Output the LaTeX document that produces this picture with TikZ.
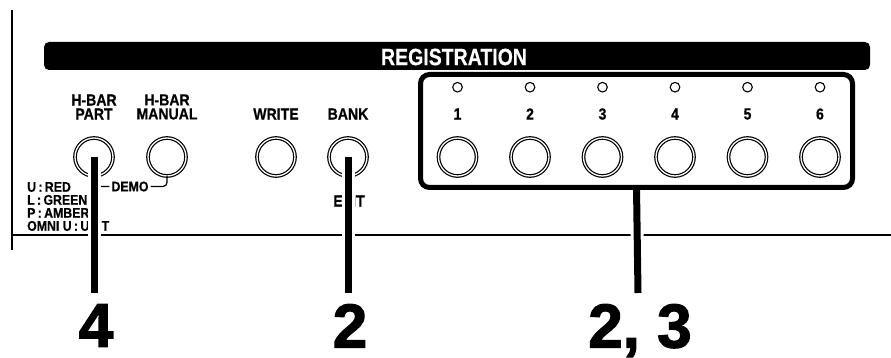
\documentclass[tikz,border=0pt]{standalone}
\usepackage{fontspec}
\usetikzlibrary{positioning}
\newfontfamily\panelfont{Liberation Sans}[FakeStretch=0.88,FakeBold=0.6]
\newfontfamily\barfont{Liberation Sans}[FakeStretch=0.83,FakeBold=0.4]
\newfontfamily\stepfont{Liberation Sans}[FakeBold=2]

\begin{document}
\begin{tikzpicture}[x=1pt,y=-1pt,
  button/.style={circle,draw,double,double distance=1.3pt,line width=1.2pt,
                 minimum size=38pt,inner sep=0pt,outer sep=0pt},
  led/.style={circle,draw,line width=1.1pt,minimum size=9.6pt,inner sep=0pt,outer sep=0pt},
  caption/.style={font=\panelfont\bfseries\fontsize{16}{14}\selectfont,align=center,inner sep=0pt},
  legend/.style={font=\panelfont\bfseries\fontsize{14}{13}\selectfont,align=left,inner sep=0pt},
  stepnum/.style={font=\stepfont\bfseries\fontsize{62}{62}\selectfont,inner sep=0pt},
  pointer/.style={line width=7pt,preaction={draw=white,line width=13pt,shorten <=4pt}},
  node distance=34.5pt
]
\useasboundingbox (0,0) rectangle (891,358);
% panel edges
\draw[line width=1.3pt] (12,10) -- (12,250);
\draw[line width=1.3pt] (12,235) -- (891,235);
\fill[rounded corners=5pt] (44,42) rectangle (870,70);
\node[font=\barfont\bfseries\fontsize{23.5}{23.5}\selectfont,text=white,inner sep=0pt] (regtitle) at (454,57) {REGISTRATION};

% left group
\node[caption] (partlabel) at (94,107) {H-BAR\\PART};
\node[caption] (manuallabel) at (167,107) {H-BAR\\MANUAL};
\node[caption] (writelabel) at (276,114) {WRITE};
\node[caption] (banklabel) at (348,114) {BANK};
\node[button] (part) at (94,157) {};
\node[button] (manual) at (167,157) {};
\node[button] (write) at (276,157) {};
\node[button] (bank) at (348,157) {};
\node[caption] (exit) at (349,201) {EXIT};
\node[legend,anchor=west] (legend) at (27,206.5) {U\,:\,RED\\L\,:\,GREEN\\P\,:\,AMBER\\OMNI U\,:\,UNIT};
\node[legend,inner sep=2pt] (demo) at (130,186.5) {DEMO};
\draw[line width=1.2pt,rounded corners=4pt] (part.south) |- (demo.west);
\draw[line width=1.2pt,rounded corners=4pt] (demo.east) -| (manual.south);

% registration buttons
\node[button] (r1) at (457.5,157) {};
\node[button,right=of r1] (r2) {};
\node[button,right=of r2] (r3) {};
\node[button,right=of r3] (r4) {};
\node[button,right=of r4] (r5) {};
\node[button,right=of r5] (r6) {};
\node[led,above=46pt of r1] (l1) {};
\node[led,above=46pt of r2] (l2) {};
\node[led,above=46pt of r3] (l3) {};
\node[led,above=46pt of r4] (l4) {};
\node[led,above=46pt of r5] (l5) {};
\node[led,above=46pt of r6] (l6) {};
\node[caption] (n1) at (r1 |- writelabel) {1};
\node[caption] (n2) at (r2 |- writelabel) {2};
\node[caption] (n3) at (r3 |- writelabel) {3};
\node[caption] (n4) at (r4 |- writelabel) {4};
\node[caption] (n5) at (r5 |- writelabel) {5};
\node[caption] (n6) at (r6 |- writelabel) {6};
\node[draw,line width=5pt,rounded corners=9pt,minimum width=432pt,minimum height=113pt,
      inner sep=0pt,outer sep=0pt] (regbox) at (636.5,131) {};

% pointers to the steps
\coordinate (tip4) at (94,293);
\coordinate (tip2) at (348,293);
\coordinate (tip23) at (638,293);
\draw[pointer] (part.center) -- (tip4);
\draw[pointer] (bank.center) -- (tip2);
\draw[pointer] (regbox.south) -- (tip23);
\node[stepnum,below=11pt of tip4,xshift=2pt] (step4) {4};
\node[stepnum,below=11pt of tip2,xshift=2pt] (step2) {2};
\node[stepnum,below=11pt of tip23,xshift=2pt] (step23) {2, 3};
\end{tikzpicture}
\end{document}
